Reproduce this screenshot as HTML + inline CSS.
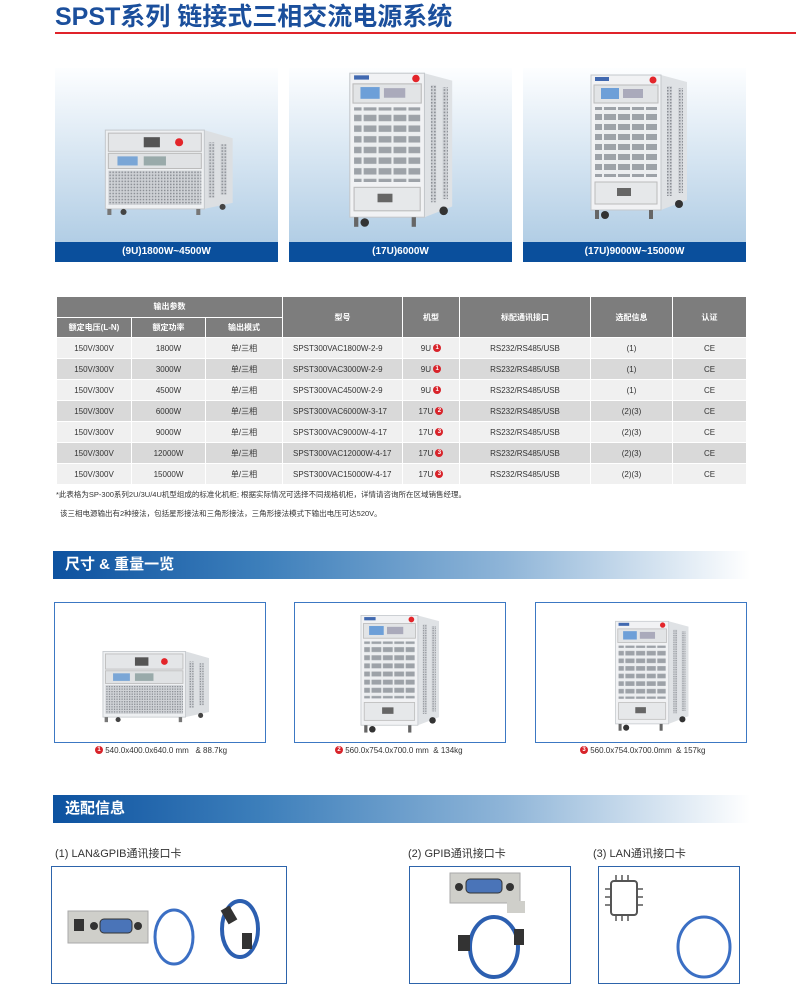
<!DOCTYPE html>
<html><head><meta charset="utf-8">
<style>
*{margin:0;padding:0;box-sizing:border-box}
body{width:796px;height:1004px;background:#fff;position:relative;overflow:hidden;font-family:"Liberation Sans","Noto Sans CJK SC",sans-serif;color:#333}
.abs{position:absolute}
.title{left:55px;top:2px;font-size:25px;font-weight:bold;color:#1b4f9c;letter-spacing:0;line-height:30px}
.redline{left:55px;top:32px;width:741px;height:2px;background:#e0232a}
.card{top:68px;width:223px;height:194px;background:linear-gradient(#fdfeff,#a9c8e2)}
.card .lab{position:absolute;left:0;bottom:0;width:100%;height:20px;background:#0a4f9c;color:#fff;font-size:10px;font-weight:bold;text-align:center;line-height:20px}
table{position:absolute;left:56px;top:296px;width:690px;border-collapse:collapse;font-size:8px;table-layout:fixed}
td,th{border:1px solid #fff;text-align:center;height:21px;padding:0}
th{background:#7d7d7d;color:#fff;font-weight:bold;height:20px}
tr.l td{background:#f0f0f0}
tr.d td{background:#d9d9d9}
td.m{text-align:left;padding-left:10px}
.n{display:inline-block;width:8px;height:8px;border-radius:50%;background:#d8232a;color:#fff;font-size:6px;line-height:8px;text-align:center;vertical-align:top;font-weight:bold}
.fn{left:56px;font-size:7.5px;color:#333}
.ban{left:53px;width:697px;height:28px;background:linear-gradient(90deg,#0d52a0,#3d7fbb 30%,#8fb5d8 65%,#fff);color:#fff;font-size:15px;font-weight:bold;line-height:28px;padding-left:12px}
.dbox{top:602px;width:212px;height:141px;border:1.5px solid #3c78c3;background:#fff}
.cap{top:746px;font-size:8px;color:#333}
.opt{top:845px;font-size:11px;color:#333}
.obox{top:866px;height:118px;border:1.5px solid #2d64ab;background:#fff}
</style></head><body>
<svg width="0" height="0" style="position:absolute">
<defs>
<pattern id="gr" width="3" height="3" patternUnits="userSpaceOnUse"><rect width="3" height="3" fill="#cfd2d6"/><rect width="1.5" height="1.5" fill="#8b8f95"/></pattern>
<pattern id="vent" width="14" height="10" patternUnits="userSpaceOnUse"><rect width="14" height="10" fill="#eceef0"/><rect x="1" y="2" width="12" height="6" fill="#9da2a8"/></pattern>
<symbol id="small" viewBox="0 0 130 95">
<polygon points="100,10 128,18 128,82 100,88" fill="#dcdfe2"/>
<rect x="104" y="22" width="6" height="55" fill="url(#gr)"/><rect x="116" y="24" width="6" height="50" fill="url(#gr)"/>
<rect x="2" y="10" width="98" height="78" fill="#eef0f2" stroke="#c4c8cc"/>
<rect x="5" y="13" width="92" height="18" fill="#e4e6e8" stroke="#bbb"/>
<rect x="40" y="17" width="16" height="10" fill="#555"/><circle cx="75" cy="22" r="4" fill="#e3252a"/>
<rect x="5" y="33" width="92" height="15" fill="#e0e2e4" stroke="#bbb"/>
<rect x="14" y="36" width="20" height="9" fill="#7aa6d6"/><rect x="40" y="36" width="22" height="9" fill="#9aa"/>
<rect x="5" y="50" width="92" height="34" fill="url(#gr)"/>
<rect x="4" y="88" width="4" height="6" fill="#777"/><rect x="92" y="88" width="4" height="6" fill="#777"/><circle cx="20" cy="91" r="3" fill="#444"/><circle cx="118" cy="86" r="3" fill="#444"/>
</symbol>
<symbol id="tall" viewBox="0 0 100 150">
<polygon points="72,3 98,10 98,128 72,138" fill="#dfe2e5"/>
<rect x="78" y="14" width="5" height="110" fill="url(#gr)"/><rect x="89" y="16" width="5" height="105" fill="url(#gr)"/>
<rect x="2" y="3" width="70" height="135" fill="#f1f2f4" stroke="#c4c8cc"/>
<circle cx="64" cy="8" r="3.5" fill="#e3252a"/><rect x="6" y="5" width="14" height="4" fill="#4169b0"/>
<rect x="5" y="13" width="64" height="18" fill="#e2e4e6" stroke="#bbb"/>
<rect x="12" y="16" width="18" height="11" fill="#6d9fd8"/><rect x="34" y="17" width="20" height="9" fill="#aab"/>
<rect x="6" y="35" width="62" height="70" fill="url(#vent)"/>
<rect x="6" y="110" width="62" height="22" fill="#e6e8ea" stroke="#bbb"/><rect x="28" y="116" width="14" height="8" fill="#666"/>
<rect x="6" y="138" width="4" height="9" fill="#666"/><rect x="60" y="138" width="4" height="9" fill="#666"/><circle cx="16" cy="143" r="4" fill="#333"/><circle cx="90" cy="132" r="4" fill="#333"/>
</symbol>
</defs></svg>

<div class="abs title">SPST系列 链接式三相交流电源系统</div>
<div class="abs redline"></div>

<div class="abs card" style="left:55px"><svg class="abs" style="left:48px;top:52px" width="132" height="96"><use href="#small"/></svg><div class="lab">(9U)1800W~4500W</div></div>
<div class="abs card" style="left:289px"><svg class="abs" style="left:57px;top:2px" width="110" height="160"><use href="#tall"/></svg><div class="lab">(17U)6000W</div></div>
<div class="abs card" style="left:523px"><svg class="abs" style="left:60px;top:4px" width="112" height="150"><use href="#tall"/></svg><div class="lab">(17U)9000W~15000W</div></div>

<table>
<colgroup><col style="width:75px"><col style="width:74px"><col style="width:77px"><col style="width:120px"><col style="width:57px"><col style="width:131px"><col style="width:82px"><col style="width:74px"></colgroup>
<tr><th colspan="3">输出参数</th><th rowspan="2" style="height:41px">型号</th><th rowspan="2">机型</th><th rowspan="2">标配通讯接口</th><th rowspan="2">选配信息</th><th rowspan="2">认证</th></tr>
<tr><th>额定电压(L-N)</th><th>额定功率</th><th>输出模式</th></tr>
<tr class="l"><td>150V/300V</td><td>1800W</td><td>单/三相</td><td class="m">SPST300VAC1800W-2-9</td><td>9U <span class="n">1</span></td><td>RS232/RS485/USB</td><td>(1)</td><td>CE</td></tr>
<tr class="d"><td>150V/300V</td><td>3000W</td><td>单/三相</td><td class="m">SPST300VAC3000W-2-9</td><td>9U <span class="n">1</span></td><td>RS232/RS485/USB</td><td>(1)</td><td>CE</td></tr>
<tr class="l"><td>150V/300V</td><td>4500W</td><td>单/三相</td><td class="m">SPST300VAC4500W-2-9</td><td>9U <span class="n">1</span></td><td>RS232/RS485/USB</td><td>(1)</td><td>CE</td></tr>
<tr class="d"><td>150V/300V</td><td>6000W</td><td>单/三相</td><td class="m">SPST300VAC6000W-3-17</td><td>17U <span class="n">2</span></td><td>RS232/RS485/USB</td><td>(2)(3)</td><td>CE</td></tr>
<tr class="l"><td>150V/300V</td><td>9000W</td><td>单/三相</td><td class="m">SPST300VAC9000W-4-17</td><td>17U <span class="n">3</span></td><td>RS232/RS485/USB</td><td>(2)(3)</td><td>CE</td></tr>
<tr class="d"><td>150V/300V</td><td>12000W</td><td>单/三相</td><td class="m">SPST300VAC12000W-4-17</td><td>17U <span class="n">3</span></td><td>RS232/RS485/USB</td><td>(2)(3)</td><td>CE</td></tr>
<tr class="l"><td>150V/300V</td><td>15000W</td><td>单/三相</td><td class="m">SPST300VAC15000W-4-17</td><td>17U <span class="n">3</span></td><td>RS232/RS485/USB</td><td>(2)(3)</td><td>CE</td></tr>
</table>
<div class="abs fn" style="top:489px">*此表格为SP-300系列2U/3U/4U机型组成的标准化机柜; 根据实际情况可选择不同规格机柜，详情请咨询所在区域销售经理。</div>
<div class="abs fn" style="top:508px;left:60px">该三相电源输出有2种接法，包括星形接法和三角形接法，三角形接法模式下输出电压可达520V。</div>

<div class="abs ban" style="top:551px">尺寸 &amp; 重量一览</div>

<div class="abs dbox" style="left:54px"><svg class="abs" style="left:45px;top:40px" width="112" height="80"><use href="#small"/></svg></div>
<div class="abs dbox" style="left:294px"><svg class="abs" style="left:62px;top:10px" width="86" height="122"><use href="#tall"/></svg></div>
<div class="abs dbox" style="left:535px"><svg class="abs" style="left:76px;top:16px" width="80" height="114"><use href="#tall"/></svg></div>
<div class="abs cap" style="left:95px"><span class="n">1</span> 540.0x400.0x640.0 mm &nbsp; &amp; 88.7kg</div>
<div class="abs cap" style="left:335px"><span class="n">2</span> 560.0x754.0x700.0 mm &nbsp;&amp; 134kg</div>
<div class="abs cap" style="left:580px"><span class="n">3</span> 560.0x754.0x700.0mm &nbsp;&amp; 157kg</div>

<div class="abs ban" style="top:795px">选配信息</div>

<div class="abs opt" style="left:55px">(1) LAN&amp;GPIB通讯接口卡</div>
<div class="abs opt" style="left:408px">(2) GPIB通讯接口卡</div>
<div class="abs opt" style="left:593px">(3) LAN通讯接口卡</div>

<div class="abs obox" style="left:51px;width:236px">
<svg class="abs" style="left:0;top:0" width="236" height="118">
<rect x="16" y="44" width="80" height="32" fill="#cfcfca" stroke="#aaa"/><rect x="22" y="52" width="10" height="12" fill="#333"/>
<rect x="48" y="52" width="32" height="14" rx="4" fill="#4a74b8" stroke="#333"/><circle cx="42" cy="59" r="4" fill="#333"/><circle cx="86" cy="59" r="4" fill="#333"/>
<ellipse cx="122" cy="70" rx="19" ry="27" fill="none" stroke="#3b6fc4" stroke-width="3"/>
<ellipse cx="188" cy="62" rx="18" ry="28" fill="none" stroke="#2c5fb0" stroke-width="4"/><rect x="172" y="40" width="10" height="16" fill="#333" transform="rotate(-30 177 48)"/><rect x="190" y="66" width="10" height="16" fill="#333"/>
</svg></div>
<div class="abs obox" style="left:409px;width:162px">
<svg class="abs" style="left:0;top:0" width="162" height="118">
<rect x="40" y="6" width="70" height="30" fill="#cfcfca" stroke="#aaa"/><rect x="97" y="34" width="18" height="12" fill="#cfcfca"/>
<rect x="56" y="12" width="36" height="14" rx="4" fill="#4a74b8" stroke="#333"/><circle cx="49" cy="20" r="4" fill="#333"/><circle cx="100" cy="20" r="4" fill="#333"/>
<ellipse cx="84" cy="80" rx="24" ry="30" fill="none" stroke="#2c5fb0" stroke-width="4"/><rect x="48" y="68" width="12" height="16" fill="#333"/><rect x="104" y="62" width="10" height="16" fill="#333"/>
</svg></div>
<div class="abs obox" style="left:598px;width:142px">
<svg class="abs" style="left:0;top:0" width="142" height="118">
<rect x="12" y="14" width="26" height="34" fill="#fff" stroke="#555" stroke-width="2" rx="3"/>
<g stroke="#555" stroke-width="1.5"><line x1="17" y1="8" x2="17" y2="14"/><line x1="23" y1="8" x2="23" y2="14"/><line x1="29" y1="8" x2="29" y2="14"/><line x1="17" y1="48" x2="17" y2="54"/><line x1="23" y1="48" x2="23" y2="54"/><line x1="29" y1="48" x2="29" y2="54"/><line x1="6" y1="22" x2="12" y2="22"/><line x1="6" y1="30" x2="12" y2="30"/><line x1="6" y1="38" x2="12" y2="38"/><line x1="38" y1="22" x2="44" y2="22"/><line x1="38" y1="30" x2="44" y2="30"/><line x1="38" y1="38" x2="44" y2="38"/></g>
<ellipse cx="105" cy="80" rx="26" ry="30" fill="none" stroke="#3b6fc4" stroke-width="3"/>
</svg></div>
</body></html>
